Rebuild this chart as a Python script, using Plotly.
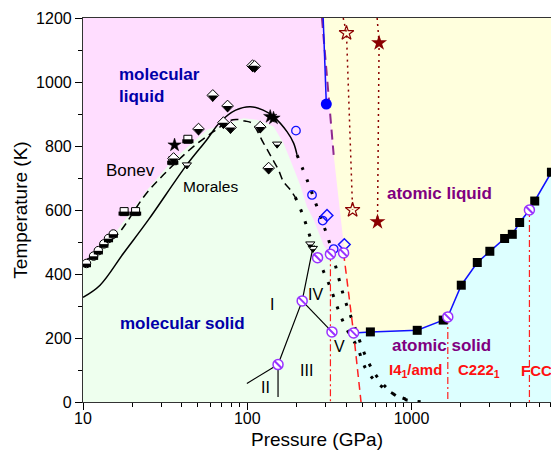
import plotly.graph_objects as go

# ---------------- data (P in GPa, T in K) ----------------
# region boundaries
pink_P = [10, 10, 285, 336, 386, 385, 300]
pink_T = [0, 1200, 1200, 772, 496, 460, 0]

green_P = [10, 10, 10.5, 12.4, 15.3, 24.5, 35.3, 56.6, 94.8, 114.5, 144.6, 166, 183, 210, 231, 254, 292, 312, 385, 444, 493]
green_T = [0, 425, 433, 470, 520, 662, 756, 850, 887, 882, 861, 809, 756, 678, 610, 569, 490, 469, 469, 221, 0]

# atomic solid / atomic liquid boundary
sl_P = [444, 562, 1084, 1560, 1664, 2010, 2516, 3000, 3690, 4110, 4557, 5225, 5628, 7113]
sl_T = [216, 219, 224, 256, 266, 365, 436, 471, 511, 524, 561, 600, 628, 718]

# melting curves
bonev_P = [10, 12.7, 16.0, 23.9, 30.9, 37.2, 47.0, 62.3, 82.0, 97.0, 107, 125.6, 141.5, 155, 166, 183, 196]
bonev_T = [430, 485, 520, 647, 710, 751, 798, 845, 882, 878, 871, 809, 762, 725, 689, 663, 640]
bonev_ext_P = [196, 216, 232, 249, 271, 292, 313, 336, 369, 413, 467, 525, 603, 711, 857, 1057]
bonev_ext_T = [640, 590, 543, 496, 450, 407, 371, 329, 271, 218, 172, 105, 65, 37, 15, 2]

morales_P = [10, 12.7, 17.6, 25, 42.8, 56.6, 68.4, 85, 104, 125, 144.5, 174.6, 191.6, 201]
morales_T = [327, 365, 464, 569, 741, 819, 875, 912, 923, 912, 892, 845, 809, 772]
morales_ext_P = [201, 235, 287, 316, 354, 390, 443, 547, 666, 857, 1306]
morales_ext_T = [772, 685, 562, 500, 403, 325, 246, 124, 58, 12, 0]

# other boundaries
blue_line_P = [290, 303]
blue_line_T = [1200, 931]
purple_dash_P = [285, 336]
purple_dash_T = [1200, 772]
red_dash_P = [386, 444, 493]
red_dash_T = [466, 216, 0]
red_dashdot_P = [321, 1664, 5225]
red_dashdot_T = [462, 266, 600]

I_II_P, I_II_T = [99.5, 154], [58, 117]
II_III_P, II_III_T = [154, 154], [117, 16]
I_III_P, I_III_T = [154, 216, 250], [117, 316, 478]
IV_V_P, IV_V_T = [216, 328], [316, 219]

# experimental / simulation points
hcirc_P = [10.5, 11.6, 12.4, 13.4, 14.3, 15.3]
hcirc_T = [433, 456, 473, 494, 511, 525]
hsq_P = [17.8, 20.9, 35.2, 43.5]
hsq_T = [595, 595, 754, 821]
hdia_P = [35.6, 50.5, 61.7, 71.6, 75.9, 79.1, 107.7, 111, 120, 135]
hdia_T = [761, 853, 958, 873, 925, 858, 1051, 1049, 859, 731]
htri_P = [42.9, 152, 242, 251]
htri_T = [741, 806, 494, 480]
bstar_P = [36.1, 138, 144.5]
bstar_T = [803, 892, 887]
bocirc_P = [198, 248, 288, 336]
bocirc_T = [848, 647, 567, 478]
bodia_P = [306, 390]
bodia_T = [583, 492]
bdot_P, bdot_T = [303], [931]
ostar_line_P = [384, 402, 438]
ostar_line_T = [1200, 1153, 600]
ostar_P, ostar_T = [402, 438], [1153, 600]
fstar_line_P = [618, 635, 621]
fstar_line_T = [1200, 1122, 563]
fstar_P, fstar_T = [635, 621], [1122, 563]
hatch_P = [154, 216, 268, 321, 386, 328, 444, 1664, 5225]
hatch_T = [117, 316, 451, 462, 466, 219, 216, 266, 600]
sq_P = [562, 1084, 1560, 2010, 2516, 3000, 3690, 4110, 4557, 5628, 7113]
sq_T = [219, 224, 256, 365, 436, 471, 511, 524, 561, 628, 718]

x_ticks = [10, 100, 1000]
x_minor = [v * d for d in (10, 100, 1000) for v in range(2, 10)]

# ---------------- figure ----------------
PINK = '#FFDDFF'
GREEN = '#EEFFEE'
YELLOW = '#FFFFDD'
CYAN = '#DDFFFF'
FONT = 'Liberation Sans, Arial, sans-serif'

fig = go.Figure()

def fill(P, T, color):
    fig.add_trace(go.Scatter(x=P, y=T, fill='toself', fillcolor=color, mode='none',
                             hoverinfo='skip', showlegend=False))

fill(pink_P, pink_T, PINK)
fill(green_P, green_T, GREEN)
fill([493] + sl_P + [sl_P[-1]], [0] + sl_T + [0], CYAN)

def line(P, T, color, width=1.5, dash='solid', shape='linear'):
    fig.add_trace(go.Scatter(x=P, y=T, mode='lines', showlegend=False,
                             line=dict(color=color, width=width, dash=dash, shape=shape, smoothing=1.0)))

line(bonev_P, bonev_T, 'black', 1.5, '8px,5px', 'spline')
line(bonev_ext_P, bonev_ext_T, 'black', 3, '3px,10px', 'spline')
line(morales_P, morales_T, 'black', 1.5, 'solid', 'spline')
line(morales_ext_P, morales_ext_T, 'black', 3, '3px,10px', 'spline')

line(purple_dash_P, purple_dash_T, '#8E2A8E', 2, '10px,6px')
line(blue_line_P, blue_line_T, '#1010FF', 1.5)
line(red_dash_P, red_dash_T, '#FF2020', 1.5, '8px,5px')
for p, t in zip(red_dashdot_P, red_dashdot_T):
    line([p, p], [t, 0], '#FF2020', 1.2, '7px,3px,2px,3px')
line(ostar_line_P, ostar_line_T, '#8B0000', 1.5, '2px,4px')
line(fstar_line_P, fstar_line_T, '#8B0000', 1.5, '2px,4px')

line(I_II_P, I_II_T, 'black', 1.2)
line(II_III_P, II_III_T, 'black', 1.2)
line(I_III_P, I_III_T, 'black', 1.2)
line(IV_V_P, IV_V_T, 'black', 1.2)
line(sl_P, sl_T, '#1010FF', 1.5)

def mk(P, T, symbol, size, color, lw=1, lc=None, standoff=0):
    fig.add_trace(go.Scatter(x=P, y=T, mode='markers', showlegend=False,
                             marker=dict(symbol=symbol, size=size, color=color,
                                         standoff=standoff,
                                         line=dict(color=lc or color, width=lw))))

# half-filled markers: white shape + black lower half (shifted down by standoff)
mk(hcirc_P, hcirc_T, 'circle', 8.5, 'white', 1, 'black')
mk(hcirc_P, hcirc_T, 'line-ew', 6.5, 'black', 3.6, 'black', 2.0)
mk(hsq_P, hsq_T, 'square', 8, 'white', 1, 'black')
mk(hsq_P, hsq_T, 'line-ew', 8, 'black', 4, 'black', 2.0)
mk(hdia_P, hdia_T, 'diamond', 9, 'white', 1, 'black')
mk(hdia_P, hdia_T, 'triangle-down', 8.6, 'black', 0, 'black', 2.15)
mk(htri_P, htri_T, 'triangle-down', 8, 'white', 1, 'black')
mk(htri_P, htri_T, 'triangle-down', 4.2, 'black', 0.5, 'black', 2.0)

mk(bstar_P, bstar_T, 'star', 10, 'black', 0.5)
mk(bocirc_P, bocirc_T, 'circle-open', 8.5, '#1010FF', 1.3)
mk(bodia_P, bodia_T, 'diamond-open', 9, '#1010FF', 1.5)
mk(bdot_P, bdot_T, 'circle', 11, '#0000FF', 0)
mk(ostar_P, ostar_T, 'star-open', 11, '#8B0000', 1.2)
mk(fstar_P, fstar_T, 'star', 12, '#8B0000', 0)
mk(sq_P, sq_T, 'square', 9, 'black', 0)
mk(hatch_P, hatch_T, 'circle', 10, 'white', 1.5, '#9933FF')
mk(hatch_P, hatch_T, 'line-nw', 7, '#9933FF', 2)

# ---------------- annotations ----------------
def txt(x, y, s, color='black', size=16, bold=False, xanchor='center', align='center'):
    if bold:
        s = '<b>' + s + '</b>'
    fig.add_annotation(x=x, y=y, xref='paper', yref='paper', text=s, showarrow=False,
                       xanchor=xanchor, yanchor='middle', align=align,
                       font=dict(family=FONT, size=size, color=color))

BLUE_T = '#0000A8'
PURP_T = '#800080'
txt(0.072, 0.824, 'molecular<br>liquid', BLUE_T, 17, True, 'left', 'left')
txt(0.1015, 0.604, 'Bonev', 'black', 17)
txt(0.273, 0.5625, 'Morales', 'black', 15.5)
txt(0.762, 0.544, 'atomic liquid', PURP_T, 17, True)
txt(0.213, 0.205, 'molecular solid', BLUE_T, 17, True)
txt(0.7665, 0.148, 'atomic solid', PURP_T, 17, True)
txt(0.6489, 0.083, 'I4<sub>1</sub>/amd', '#FF1010', 15, True, 'left')
txt(0.797, 0.083, 'C222<sub>1</sub>', '#FF1010', 15, True, 'left')
txt(0.932, 0.083, 'FCC', '#FF1010', 15, True, 'left')
txt(0.403, 0.255, 'I', 'black', 16)
txt(0.389, 0.039, 'II', 'black', 16)
txt(0.478, 0.081, 'III', 'black', 16)
txt(0.497, 0.279, 'IV', 'black', 16)
txt(0.549, 0.144, 'V', 'black', 16)

fig.update_layout(
    width=551, height=460,
    margin=dict(l=83, r=0, t=18, b=58),
    paper_bgcolor='white', plot_bgcolor=YELLOW,
    font=dict(family=FONT, size=16, color='black'),
    showlegend=False,
)
fig.update_xaxes(type='log', range=[1, 3.8495], tickvals=x_ticks, ticktext=[str(v) for v in x_ticks],
                 ticks='outside', ticklen=7, tickwidth=1, tickcolor='black', ticklabelstandoff=-5,
                 minor=dict(tickvals=x_minor, ticks='outside', ticklen=4, tickcolor='black', tickwidth=1),
                 showline=True, linecolor='#333333', linewidth=1.2, mirror=True, showgrid=False, zeroline=False,
                 title=dict(text='Pressure (GPa)', font=dict(size=19), standoff=6),
                 tickfont=dict(size=16))
fig.update_yaxes(range=[0, 1200], tickvals=[0, 200, 400, 600, 800, 1000, 1200],
                 ticks='outside', ticklen=7, tickwidth=1, tickcolor='black',
                 minor=dict(dtick=100, ticks='outside', ticklen=4, tickcolor='black', tickwidth=1),
                 showline=True, linecolor='#333333', linewidth=1.2, mirror=True, showgrid=False, zeroline=False,
                 title=dict(text='Temperature (K)', font=dict(size=19), standoff=3),
                 tickfont=dict(size=16))

fig.write_html('out.html')
